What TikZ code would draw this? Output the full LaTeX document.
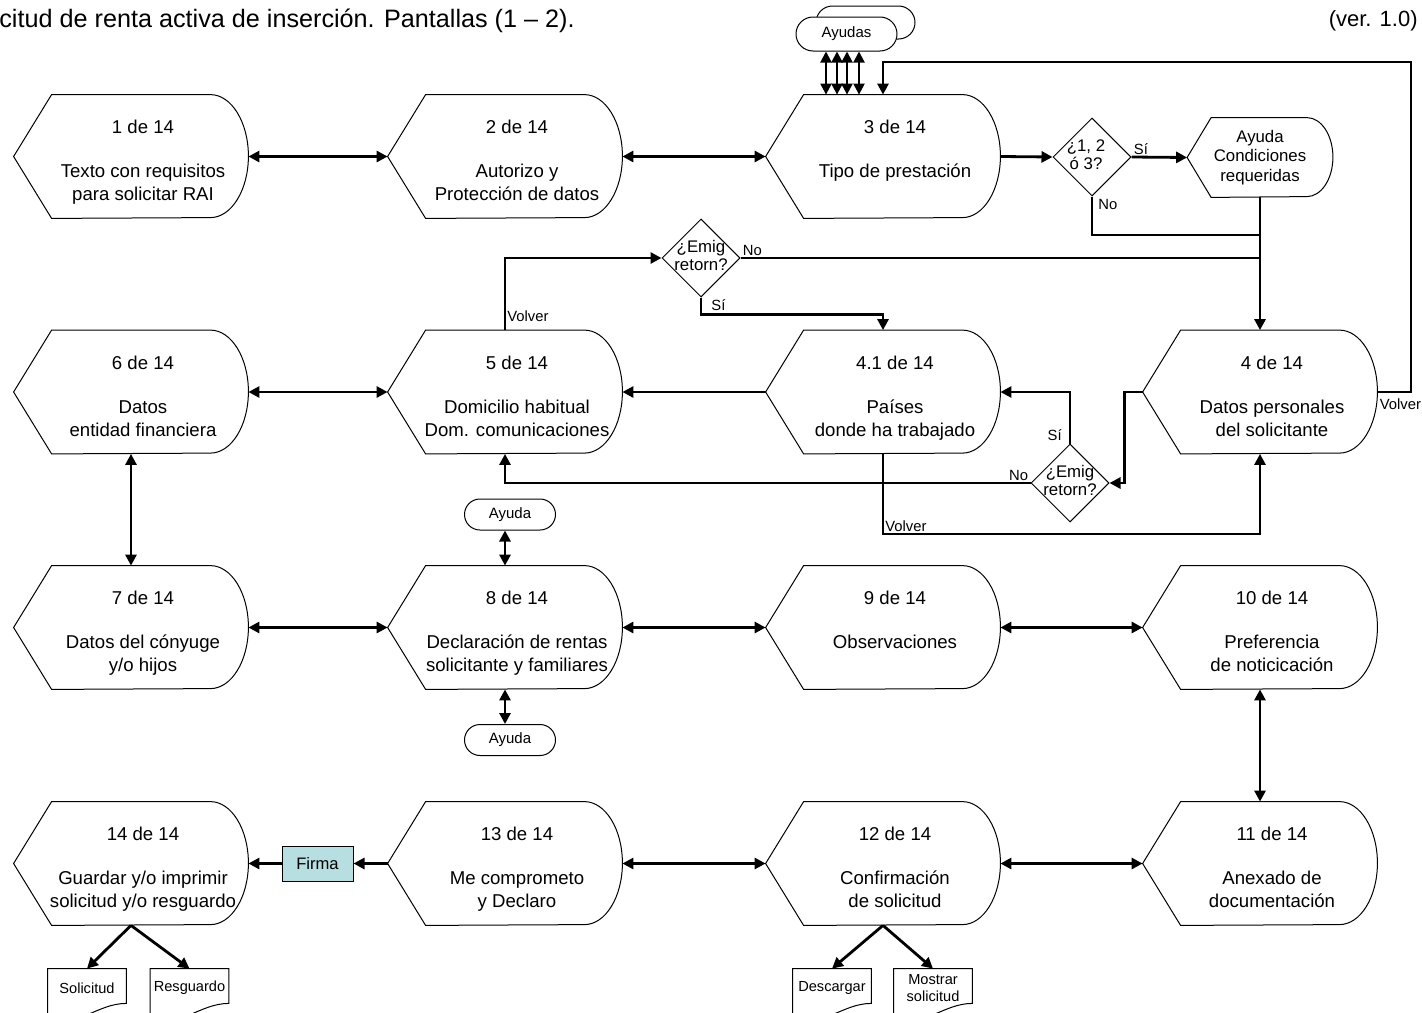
\documentclass[tikz,border=0pt]{standalone}
\usepackage{fontspec}
\setmainfont{Liberation Sans}
\usepackage{tikz}
\usetikzlibrary{positioning, shapes.geometric, shapes.misc, arrows.meta}

\definecolor{firmacol}{RGB}{183,222,224}

% texto de pantalla: numero arriba, descripcion debajo
\newcommand{\pant}[2]{\hspace*{12pt}\begin{tabular}{@{}c@{}}\rule{0pt}{14pt}#1\\[10.5pt]#2\end{tabular}}

\tikzset{
  borde/.style={draw, line width=0.5pt},
  linea/.style={line width=1.4pt},
  flecha/.style={linea, -{Triangle[length=5.5pt, width=5.5pt]}},
  dflecha/.style={linea, {Triangle[length=5.5pt, width=5.5pt]}-{Triangle[length=5.5pt, width=5.5pt]}},
  pantforma/.style n args={3}{append after command={\pgfextra{%
      \draw[borde] (\tikzlastnode.west) -- ([xshift=#1]\tikzlastnode.north west)
        -- ([xshift=-#2]\tikzlastnode.north east)
        arc[start angle=90, end angle=-90, x radius=#2, y radius=#3]
        -- ([xshift=#1]\tikzlastnode.south west) -- cycle;}}},
  pantalla/.style={pantforma={19pt}{19pt}{30.75pt}, minimum width=117pt, minimum height=61.5pt,
    inner sep=0pt, font=\fontsize{9.3}{11.5}\selectfont},
  decision/.style={diamond, borde, minimum width=39pt, minimum height=39pt, inner sep=0pt,
    font=\fontsize{8.4}{9}\selectfont},
  ayuda/.style={rounded rectangle, borde, fill=white, inner sep=0pt, minimum width=45.5pt,
    minimum height=15.5pt, font=\fontsize{7.5}{9}\selectfont},
  doc/.style={minimum width=39pt, minimum height=19pt, inner sep=0pt, align=center,
    font=\fontsize{7.3}{8.5}\selectfont,
    append after command={\pgfextra{%
      \draw[borde] ([yshift=-4.5pt]\tikzlastnode.south west) -- (\tikzlastnode.north west)
        -- (\tikzlastnode.north east) -- ([yshift=2pt]\tikzlastnode.south east)
        .. controls ([xshift=-15pt,yshift=2pt]\tikzlastnode.south east)
        and ([xshift=15pt,yshift=-11pt]\tikzlastnode.south west)
        .. ([yshift=-4.5pt]\tikzlastnode.south west);}}},
  etiq/.style={font=\fontsize{7.4}{9}\selectfont, inner sep=1pt},
}

\begin{document}
\begin{tikzpicture}[x=0.5pt, y=-0.5pt]
  \useasboundingbox (0,0) rectangle (1422,1012);
  \clip (0,0) rectangle (1422,1012);

  \node[anchor=west, inner sep=0pt, font=\fontsize{12.6}{14}\selectfont] (titulo) at (-1,21) {citud de renta activa de inserción. Pantallas (1 – 2).};
  \node[anchor=east, inner sep=0pt, font=\fontsize{11}{13}\selectfont] (version) at (1418,21) {(ver. 1.0)};

  % pantallas
  \node[pantalla] (s1) at (131,156.5) {\pant{1 de 14}{Texto con requisitos\\para solicitar RAI}};
  \node[pantalla] (s2) at (505,156.5) {\pant{2 de 14}{Autorizo y\\Protección de datos}};
  \node[pantalla] (s3) at (883,156.5) {\pant{3 de 14}{Tipo de prestación\\\mbox{}}};
  \node[pantalla] (s6) at (131,392) {\pant{6 de 14}{Datos\\entidad financiera}};
  \node[pantalla] (s5) at (505,392) {\pant{5 de 14}{Domicilio habitual\\Dom. comunicaciones}};
  \node[pantalla] (s41) at (883,392) {\pant{4.1 de 14}{Países\\donde ha trabajado}};
  \node[pantalla] (s4) at (1260,392) {\pant{4 de 14}{Datos personales\\del solicitante}};
  \node[pantalla] (s7) at (131,627.5) {\pant{7 de 14}{Datos del cónyuge\\y/o hijos}};
  \node[pantalla] (s8) at (505,627.5) {\pant{8 de 14}{Declaración de rentas\\solicitante y familiares}};
  \node[pantalla] (s9) at (883,627.5) {\pant{9 de 14}{Observaciones\\\mbox{}}};
  \node[pantalla] (s10) at (1260,627.5) {\pant{10 de 14}{Preferencia\\de noticicación}};
  \node[pantalla] (s14) at (131,863.5) {\pant{14 de 14}{Guardar y/o imprimir\\solicitud y/o resguardo}};
  \node[pantalla] (s13) at (505,863.5) {\pant{13 de 14}{Me comprometo\\y Declaro}};
  \node[pantalla] (s12) at (883,863.5) {\pant{12 de 14}{Confirmación\\de solicitud}};
  \node[pantalla] (s11) at (1260,863.5) {\pant{11 de 14}{Anexado de\\documentación}};

  \node[pantforma={12pt}{13pt}{19.75pt}, minimum width=72.5pt, minimum height=39.5pt, inner sep=0pt,
    align=center, font=\fontsize{8.4}{9.8}\selectfont] (ac) at (1260,157.5) {Ayuda\\Condiciones\\requeridas};

  % decisiones
  \node[decision] (d1) at (1092,157) {\makebox[0pt]{\hspace*{-6pt}\begin{tabular}{@{}c@{}}¿1, 2\\ó 3?\end{tabular}}};
  \node[decision] (d3) at (701,258) {\makebox[0pt]{\begin{tabular}{@{}c@{}}¿Emig\\retorn?\end{tabular}}};
  \node[decision] (d2) at (1070,483) {\makebox[0pt]{\begin{tabular}{@{}c@{}}¿Emig\\retorn?\end{tabular}}};

  % ayudas
  \node[ayuda, minimum width=49.5pt, minimum height=16.5pt] (ayudasB) at (865.5,22.5) {};
  \node[ayuda, minimum width=50.5pt, minimum height=17pt] (ayudas) at (846.5,34) {Ayudas};
  \node[ayuda] (ay1) at (510,514.5) {Ayuda};
  \node[ayuda] (ay2) at (510,740) {Ayuda};

  \node[borde, fill=firmacol, minimum width=35.5pt, minimum height=17.5pt, inner sep=0pt,
    font=\fontsize{8.3}{10}\selectfont] (firma) at (317.5,863.5) {Firma};

  \node[doc] (sol) at (87,988) {Solicitud};
  \node[doc] (resg) at (189.5,988) {Resguardo};
  \node[doc] (desc) at (832,988) {Descargar};
  \node[doc] (most) at (933,988) {Mostrar\\solicitud};

  \coordinate (v4) at (1411,62);
  \coordinate (j1) at (1260,235);
  \coordinate (c41) at (883,534);

  % fila 1
  \draw[dflecha] (s1.east) -- (s2.west);
  \draw[dflecha] (s2.east) -- (s3.west);
  \draw[flecha] (s3.east) -- (d1.west);
  \draw[flecha] (d1.east) -- (ac.west);
  \draw[linea] (d1.south) |- (j1);
  \draw[flecha] (ac.south) -- (s4.north);
  \foreach \x in {826,837,847,859}
    \draw[dflecha, line width=1.1pt] (ayudas.south -| \x,0) -- (s3.north -| \x,0);
  \draw[flecha] (s4.east) -| (v4) -| (s3.north);

  % fila 2
  \draw[flecha] (s5.north) |- (d3.west);
  \draw[linea] (d3.east) -- (d3.east -| ac.south);
  \draw[flecha] (d3.south) -- ++(0,17) -| (s41.north);
  \draw[dflecha] (s6.east) -- (s5.west);
  \draw[flecha] (s41.west) -- (s5.east);
  \draw[flecha] (s4.west) -- ++(-18,0) |- (d2.east);
  \draw[flecha] (d2.north) |- (s41.east);
  \draw[flecha] (d2.west) -| (s5.south);
  \draw[flecha] (s41.south) -- (c41) -| (s4.south);

  % fila 3
  \draw[dflecha] (s6.south) -- (s7.north);
  \draw[dflecha] (s7.east) -- (s8.west);
  \draw[dflecha] (s8.east) -- (s9.west);
  \draw[dflecha] (s9.east) -- (s10.west);
  \draw[dflecha] (s8.north) -- (s8.north |- ay1.south);
  \draw[dflecha] (s8.south) -- (s8.south |- ay2.north);
  \draw[dflecha] (s10.south) -- (s11.north);

  % fila 4
  \draw[dflecha] (s11.west) -- (s12.east);
  \draw[dflecha] (s12.west) -- (s13.east);
  \draw[flecha] (s13.west) -- (firma.east);
  \draw[flecha] (firma.west) -- (s14.east);
  \draw[flecha] (s14.south) -- (sol.north);
  \draw[flecha] (s14.south) -- (resg.north);
  \draw[flecha] (s12.south) -- (desc.north);
  \draw[flecha] (s12.south) -- (most.north);

  % etiquetas
  \node[etiq, anchor=south west] (si1) at (d1.east) {Sí};
  \node[etiq, anchor=north west, xshift=2pt] (no1) at (d1.south) {No};
  \node[etiq, anchor=south west] (no3) at (d3.east) {No};
  \node[etiq, anchor=north west, xshift=4pt] (si3) at (d3.south) {Sí};
  \node[etiq, anchor=south west, yshift=3pt] (vol5) at (s5.north) {Volver};
  \node[etiq, anchor=south east, xshift=-3pt] (si2) at (d2.north) {Sí};
  \node[etiq, anchor=south east] (no2) at (d2.west) {No};
  \node[etiq, anchor=south west] (vol41) at (c41) {Volver};
  \node[etiq, anchor=north west, yshift=-2pt] (vol4) at (s4.east) {Volver};
\end{tikzpicture}
\end{document}
